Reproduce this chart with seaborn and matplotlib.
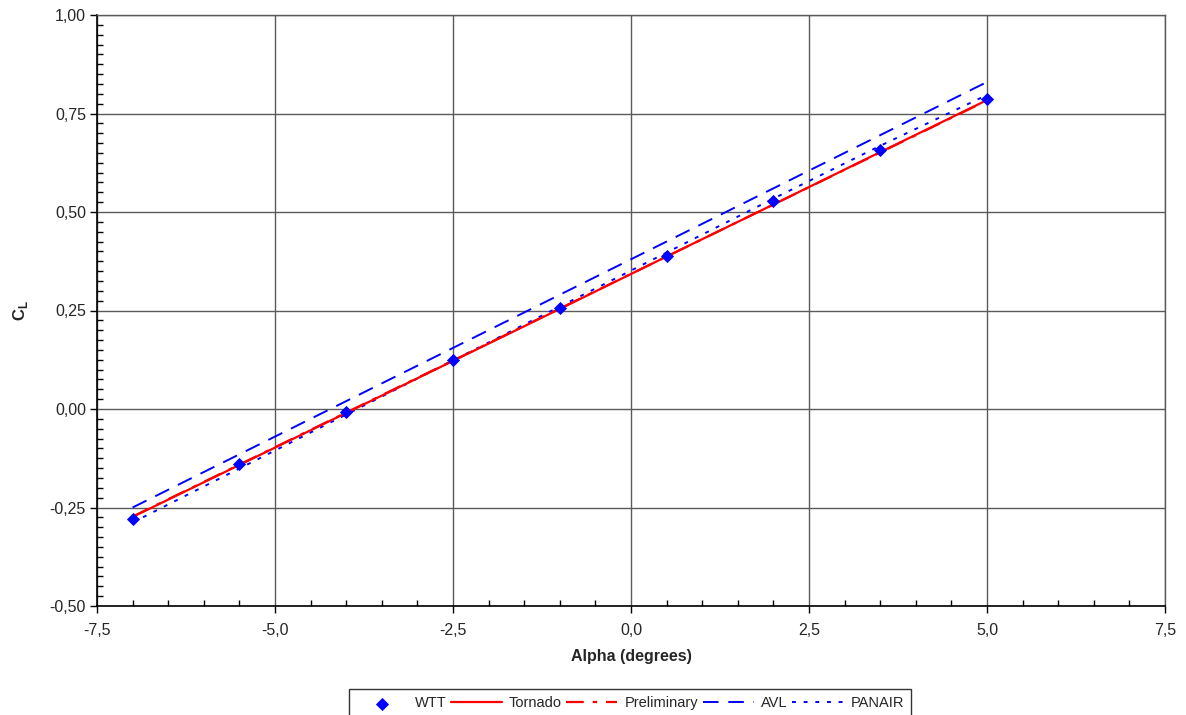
import matplotlib
matplotlib.use("Agg")
import matplotlib.pyplot as plt
from matplotlib.ticker import MultipleLocator, FuncFormatter
import seaborn as sns
import pandas as pd

alpha = [-7.0, -5.5, -4.0, -2.5, -1.0, 0.5, 2.0, 3.5, 5.0]
wtt = [-0.279, -0.140, -0.008, 0.124, 0.256, 0.389, 0.529, 0.658, 0.787]
tornado = [-0.274, -0.142, -0.010, 0.122, 0.254, 0.387, 0.519, 0.652, 0.784]
preliminary = [-0.273, -0.141, -0.009, 0.123, 0.255, 0.387, 0.519, 0.651, 0.783]
avl = [-0.250, -0.115, 0.020, 0.155, 0.290, 0.425, 0.560, 0.695, 0.830]
panair = [-0.288, -0.151, -0.014, 0.123, 0.260, 0.397, 0.534, 0.668, 0.797]

sns.set_style("white")
plt.rcParams['font.family'] = ['Liberation Sans', 'DejaVu Sans']
plt.rcParams['mathtext.fontset'] = 'custom'
plt.rcParams['mathtext.rm'] = 'Liberation Sans'
plt.rcParams['mathtext.bf'] = 'Liberation Sans:bold'

fig = plt.figure(figsize=(11.86, 7.15), dpi=100)
ax = fig.add_axes([97/1186, 1-606/715, (1165-97)/1186, (606-15)/715])

df = pd.DataFrame({"alpha": alpha, "WTT": wtt, "Tornado": tornado,
                   "Preliminary": preliminary, "AVL": avl, "PANAIR": panair})

grid_c = "#5a5a5a"
ax.set_axisbelow(True)
ax.grid(True, which="major", color=grid_c, linewidth=1.0)

sns.scatterplot(data=df, x="alpha", y="WTT", ax=ax, marker="D", s=45,
                color="#0000ff", edgecolor="#0000ff", linewidth=0, label="WTT", zorder=5)
sns.lineplot(data=df, x="alpha", y="Tornado", ax=ax, color="#ff0000", lw=1.6, label="Tornado", zorder=4)
sns.lineplot(data=df, x="alpha", y="Preliminary", ax=ax, color="#ff0000", lw=1.6,
             label="Preliminary", zorder=3)
ax.lines[-1].set_dashes([8, 4, 2, 4])
sns.lineplot(data=df, x="alpha", y="AVL", ax=ax, color="#0000ff", lw=1.4, label="AVL", zorder=3)
ax.lines[-1].set_dashes([8, 5])
sns.lineplot(data=df, x="alpha", y="PANAIR", ax=ax, color="#0000ff", lw=1.4, label="PANAIR", zorder=3)
ax.lines[-1].set_dashes([2, 4])

ax.set_xlim(-7.5, 7.5)
ax.set_ylim(-0.5, 1.0)
ax.xaxis.set_major_locator(MultipleLocator(2.5))
ax.xaxis.set_minor_locator(MultipleLocator(0.5))
ax.yaxis.set_major_locator(MultipleLocator(0.25))
ax.yaxis.set_minor_locator(MultipleLocator(0.025))
ax.xaxis.set_major_formatter(FuncFormatter(lambda v, p: f"{v:.1f}".replace(".", ",")))
ax.yaxis.set_major_formatter(FuncFormatter(lambda v, p: f"{v:.2f}".replace(".", ",")))
ax.tick_params(axis="both", which="both", bottom=True, left=True, top=False, right=False)
ax.tick_params(axis="both", which="major", direction="out", length=5, width=1,
               color="black", labelsize=11.5)
ax.tick_params(axis="both", which="minor", direction="in", length=4, width=1, color="black")
ax.tick_params(axis="x", which="major", pad=7)
ax.tick_params(axis="y", which="major", pad=3)

for s in ["left", "bottom"]:
    ax.spines[s].set_color("black")
    ax.spines[s].set_linewidth(1.2)
for s in ["top", "right"]:
    ax.spines[s].set_color(grid_c)
    ax.spines[s].set_linewidth(1.0)

ax.set_xlabel("Alpha (degrees)", fontsize=11.5, fontweight="bold", labelpad=8)
ax.set_ylabel(r"$\mathbf{C}_\mathbf{L}$", fontsize=12, labelpad=14)

handles, labels = ax.get_legend_handles_labels()
if ax.legend_:
    ax.legend_.remove()
leg = fig.legend(handles, labels, loc="lower center", bbox_to_anchor=(630/1186, -0.014),
                 ncol=5, frameon=True, fancybox=False, edgecolor="black", fontsize=10.5,
                 handlelength=3.5, handletextpad=0.5, columnspacing=0.3, borderpad=0.5)
leg.get_frame().set_linewidth(1.0)

fig.savefig("out.png", dpi=100)
